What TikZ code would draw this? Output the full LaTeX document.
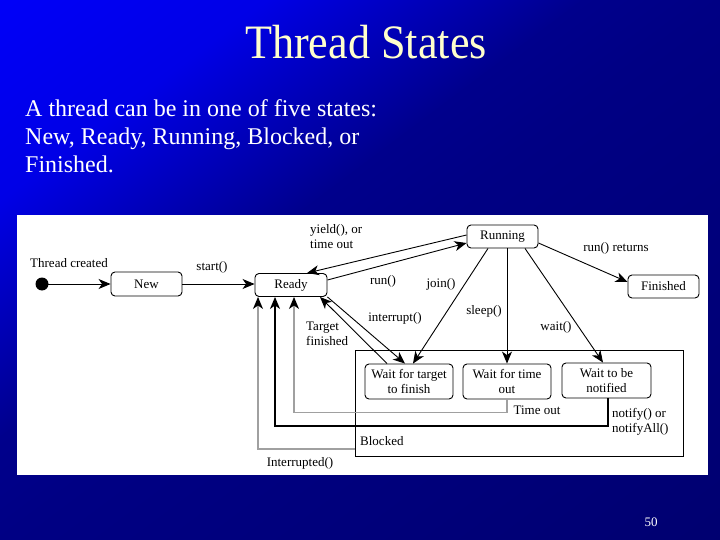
\documentclass[tikz,border=0pt]{standalone}
\usepackage{fontspec}
\setmainfont{Liberation Serif}
\usetikzlibrary{arrows.meta}
\definecolor{bgA}{HTML}{0000F8}
\definecolor{bgB}{HTML}{0000E6}
\definecolor{bgC}{HTML}{00008C}
\definecolor{bgD}{HTML}{000084}
\definecolor{bgE}{HTML}{000070}
\definecolor{titleyel}{HTML}{FFFFCC}
\definecolor{greyline}{HTML}{A0A0A0}
\tikzset{
  statebox/.style={draw, rounded corners=4pt, line width=0.9pt, align=center, inner sep=0pt,
    font=\fontsize{13}{15}\selectfont, fill=white},
  lbl/.style={font=\fontsize{13}{15}\selectfont, inner sep=0pt, align=left},
  conn/.style={line width=0.9pt, -{Stealth[length=12pt,width=10pt,inset=3.5pt]}},
  greyconn/.style={line width=1.3pt, greyline, -{Stealth[length=12pt,width=10pt,inset=3.5pt,color=black]}},
  blackconn/.style={line width=1.3pt, black, -{Stealth[length=12pt,width=10pt,inset=3.5pt]}}
}
\begin{document}
\begin{tikzpicture}[x=1pt,y=-1pt]
\useasboundingbox (0,0) rectangle (720,540);
% diagonal background gradient
\begin{scope}
\clip (0,0) rectangle (720,540);
\begin{scope}[transform canvas={rotate=-53.13}]
\shade[left color=bgA, right color=bgB] (-2pt,-700pt) rectangle (161pt,700pt);
\shade[left color=bgB, right color=bgC] (160pt,-700pt) rectangle (351pt,700pt);
\shade[left color=bgC, right color=bgD] (350pt,-700pt) rectangle (433pt,700pt);
\shade[left color=bgD, right color=bgE] (432pt,-700pt) rectangle (870pt,700pt);
\end{scope}
\end{scope}
\fill[white] (17,215) rectangle (708,475);

\node[anchor=base, text=titleyel, font=\fontsize{48}{50}\selectfont, xscale=0.92] (title) at (366,59) {Thread States};
\node[anchor=north west, text=white, font=\fontsize{24}{28}\selectfont, align=left, inner sep=0pt] (body) at (25,99)
  {A thread can be in one of five states:\\New, Ready, Running, Blocked, or\\Finished.};

% Blocked container
\node[draw, line width=0.9pt, minimum width=328pt, minimum height=106pt, inner sep=0pt] (Blocked) at (519,403) {};
\node[lbl, anchor=west] (blockedlbl) at (360,441) {Blocked};

% states
\fill (42,284) circle (6.5pt);
\coordinate (start) at (42,284);
\node[statebox, minimum width=71pt, minimum height=24pt] (New) at (146.5,284) {New};
\node[statebox, minimum width=72pt, minimum height=23pt] (Ready) at (291,285) {Ready};
\node[statebox, minimum width=71pt, minimum height=23pt] (Running) at (502.5,236.5) {Running};
\node[statebox, minimum width=71pt, minimum height=23pt] (Finished) at (663.5,286.5) {Finished};
\node[statebox, minimum width=88pt, minimum height=35pt] (WT) at (409,381.5) {Wait for target\\to finish};
\node[statebox, minimum width=88pt, minimum height=35pt] (WO) at (507,381.5) {Wait for time\\out};
\node[statebox, minimum width=89pt, minimum height=35pt] (WN) at (606.5,380.5) {Wait to be\\notified};

% connectors
\draw[conn] (start) -- (New.west);
\draw[conn] (New.east) -- (New.east -| Ready.west);
\draw[conn] ([yshift=1.5pt]Running.west) -- ([xshift=16pt]Ready.north);
\draw[conn] ([yshift=5pt]Ready.east) -- ([yshift=-6.5pt]Running.west);
\draw[conn] ([yshift=-6.5pt]Running.east) -- ([yshift=4.5pt]Finished.west);
\draw[conn] ([xshift=-14.5pt]Running.south) -- ([xshift=4pt]WT.north);
\draw[conn] ([xshift=4.5pt]Running.south) -- (WO.north);
\draw[conn] ([xshift=22.5pt]Running.south) -- ([xshift=-3.5pt]WN.north);
\draw[conn] (Ready.south east) -- ([xshift=-4pt]WT.north);
\draw[conn] ([xshift=-22pt]WT.north) -- ([xshift=29pt]Ready.south);

\draw[greyconn] (WO.south) -- ++(0,13) -| ([xshift=3pt]Ready.south);
\draw[blackconn] ([xshift=1.5pt]WN.south) -- ++(0,27.5) -| ([xshift=-16pt]Ready.south);
\draw[greyconn] ([yshift=-46pt]Blocked.west) -| ([xshift=-33pt]Ready.south);

% labels
\node[lbl] (l1) at (69,263) {Thread created};
\node[lbl] (l2) at (212,267) {start()};
\node[lbl, anchor=west] (l3) at (310,236.5) {yield(), or\\time out};
\node[lbl] (l4) at (383,281) {run()};
\node[lbl] (l5) at (441,284) {join()};
\node[lbl] (l6) at (395,318) {interrupt()};
\node[lbl, anchor=west] (l7) at (306,334) {Target\\finished};
\node[lbl] (l8) at (484,311) {sleep()};
\node[lbl] (l9) at (556,327) {wait()};
\node[lbl] (l10) at (616,248) {run() returns};
\node[lbl] (l11) at (537,410) {Time out};
\node[lbl, anchor=west] (l12) at (612,422) {notify() or\\notifyAll()};
\node[lbl] (l13) at (300,463) {Interrupted()};

\node[text=white, font=\fontsize{13}{15}\selectfont, inner sep=0pt] (page) at (651,522) {50};
\end{tikzpicture}
\end{document}
